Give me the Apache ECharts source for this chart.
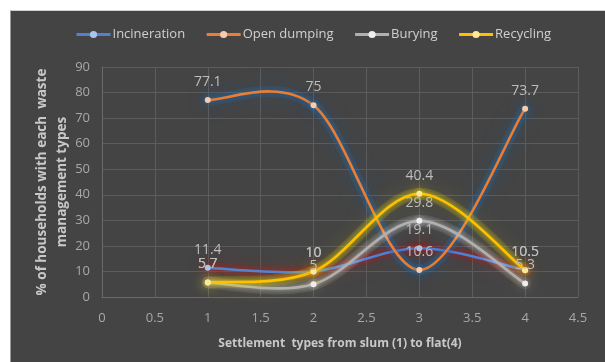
<!DOCTYPE html>
<html>
<head>
<meta charset="utf-8">
<script src="https://cdn.jsdelivr.net/npm/echarts@6/dist/echarts.min.js"></script>
<style>
  html, body { margin: 0; padding: 0; background: #ffffff; }
  #frame { position: absolute; left: 10px; top: 10px; width: 595px; height: 352px; background: #444444; border-left: 1px solid #9a9a9a; border-top: 1px solid #d0d0d0; box-sizing: border-box; }
  #chart { position: absolute; left: 0; top: 0; width: 605px; height: 362px; }
</style>
</head>
<body>
<div id="frame"></div>
<div id="chart"></div>
<script>
// Settlement type (1 = slum ... 4 = flat)
const settlementTypes = [1, 2, 3, 4];

// Share of households (%) per waste management type
const incineration = [11.4, 10, 19.1, 10.5];
const openDumping  = [77.1, 75, 10.6, 73.7];
const burying      = [5.7, 5, 29.8, 5.3];
const recycling    = [5.7, 10, 40.4, 10.5];

const xTicks = { min: 0, max: 4.5, interval: 0.5 };
const yTicks = { min: 0, max: 90, interval: 10 };

function pairs(values) {
  return settlementTypes.map((x, i) => [x, values[i]]);
}

// Cardinal-spline curve (tension 1/6) drawn segment by segment in pixel space,
// with a soft coloured halo underneath.
function curveSeries(values, lineColor, glow, halo) {
  const n = values.length;
  return {
    type: 'custom',
    coordinateSystem: 'cartesian2d',
    data: pairs(values),
    silent: true,
    z: 2,
    renderItem: function (params, api) {
      const i = params.dataIndex;
      if (i >= n - 1) return { type: 'group', children: [] };
      const p = settlementTypes.map((x, k) => api.coord([x, values[k]]));
      const p0 = p[Math.max(i - 1, 0)], p1 = p[i], p2 = p[i + 1], p3 = p[Math.min(i + 2, n - 1)];
      const t = 1 / 6;
      const shape = {
        x1: p1[0], y1: p1[1], x2: p2[0], y2: p2[1],
        cpx1: p1[0] + (p2[0] - p0[0]) * t, cpy1: p1[1] + (p2[1] - p0[1]) * t,
        cpx2: p2[0] - (p3[0] - p1[0]) * t, cpy2: p2[1] - (p3[1] - p1[1]) * t
      };
      return {
        type: 'group',
        children: [
          { type: 'bezierCurve', shape: shape,
            style: { fill: 'none', stroke: halo, lineWidth: 12, lineCap: 'round', shadowBlur: 20, shadowColor: glow } },
          { type: 'bezierCurve', shape: shape,
            style: { fill: 'none', stroke: lineColor, lineWidth: 2.6, lineCap: 'round', shadowBlur: 5, shadowColor: glow } }
        ]
      };
    }
  };
}

// Markers, value labels and legend entry for each series
function pointSeries(name, values, lineColor, dotColor, glow) {
  return {
    name: name,
    type: 'line',
    data: pairs(values),
    z: 4,
    symbol: 'circle',
    symbolSize: 6,
    itemStyle: { color: dotColor, borderColor: dotColor, borderWidth: 0, shadowColor: glow, shadowBlur: 14 },
    lineStyle: { color: lineColor, opacity: 0 },
    label: {
      show: true, position: 'top', distance: 8,
      color: '#bdbdbd', fontSize: 14, fontFamily: 'Open Sans'
    },
    emphasis: { disabled: true }
  };
}

const styles = {
  inc:  { line: '#4f81d4', dot: '#a9c4f0', glow: 'rgba(190,25,25,0.85)',  halo: 'rgba(170,30,30,0.16)' },
  dump: { line: '#ed7d31', dot: '#f8cbad', glow: 'rgba(30,110,185,0.85)', halo: 'rgba(35,105,175,0.16)' },
  bury: { line: '#b0b0b0', dot: '#eeeeee', glow: 'rgba(255,255,255,0.6)', halo: 'rgba(255,255,255,0.07)' },
  rec:  { line: '#ffc000', dot: '#ffe699', glow: 'rgba(255,235,0,0.8)',   halo: 'rgba(240,220,0,0.13)' }
};

const chart = echarts.init(document.getElementById('chart'), null, { renderer: 'canvas' });
chart.setOption({
  backgroundColor: 'transparent',
  animation: false,
  legend: {
    top: 23, left: 70,
    itemWidth: 34, itemHeight: 9, itemGap: 20,
    lineStyle: { width: 3, opacity: 1, shadowBlur: 0 },
    itemStyle: { shadowBlur: 0 },
    textStyle: { color: '#d0d0d0', fontSize: 13, fontFamily: 'Open Sans', padding: [0, 0, 0, -3] },
    data: ['Incineration', 'Open dumping', 'Burying', 'Recycling']
  },
  grid: { left: 102, right: 27, top: 67, bottom: 65, containLabel: false },
  graphic: [{
    type: 'text',
    x: 52, y: 182,
    rotation: Math.PI / 2,
    style: {
      text: '% of households with each  waste\nmanagement types',
      fill: '#c8c8c8',
      font: 'bold 13.5px "Open Sans"',
      lineHeight: 20,
      align: 'center',
      verticalAlign: 'middle'
    }
  }],
  xAxis: {
    type: 'value', min: xTicks.min, max: xTicks.max, interval: xTicks.interval,
    name: 'Settlement  types from slum (1) to flat(4)',
    nameLocation: 'middle', nameGap: 41,
    nameTextStyle: { color: '#c8c8c8', fontSize: 12, fontWeight: 'bold', fontFamily: 'Open Sans' },
    axisLine: { show: true, lineStyle: { color: '#6a6a6a' } },
    axisTick: { show: false },
    axisLabel: { color: '#a8a8a8', fontSize: 13, margin: 15, fontFamily: 'Open Sans' },
    splitLine: { show: true, lineStyle: { color: '#5c5c5c' } }
  },
  yAxis: {
    type: 'value', min: yTicks.min, max: yTicks.max, interval: yTicks.interval,
    axisLine: { show: true, lineStyle: { color: '#6a6a6a' } },
    axisTick: { show: false },
    axisLabel: { color: '#a8a8a8', fontSize: 13, margin: 12, fontFamily: 'Open Sans' },
    splitLine: { show: true, lineStyle: { color: '#5c5c5c' } }
  },
  series: [
    curveSeries(incineration, styles.inc.line, styles.inc.glow, styles.inc.halo),
    curveSeries(openDumping, styles.dump.line, styles.dump.glow, styles.dump.halo),
    curveSeries(burying, styles.bury.line, styles.bury.glow, styles.bury.halo),
    curveSeries(recycling, styles.rec.line, styles.rec.glow, styles.rec.halo),
    pointSeries('Incineration', incineration, styles.inc.line, styles.inc.dot, styles.inc.glow),
    pointSeries('Open dumping', openDumping, styles.dump.line, styles.dump.dot, styles.dump.glow),
    pointSeries('Burying', burying, styles.bury.line, styles.bury.dot, styles.bury.glow),
    pointSeries('Recycling', recycling, styles.rec.line, styles.rec.dot, styles.rec.glow)
  ]
});
</script>
</body>
</html>
